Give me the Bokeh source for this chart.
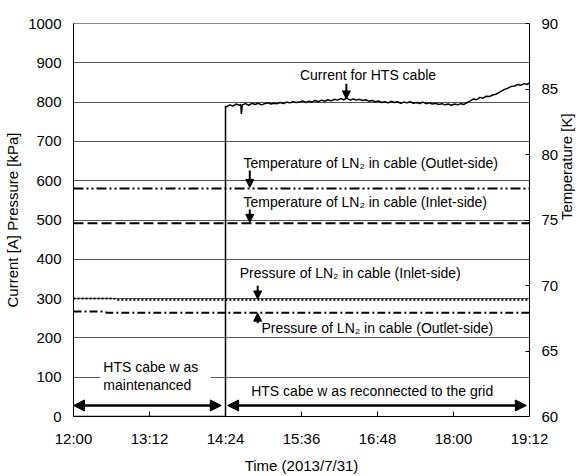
import math
from bokeh.plotting import figure
from bokeh.models import Range1d, LinearAxis, FixedTicker, Label, Arrow, NormalHead, BoxAnnotation
from bokeh.embed import file_html
from bokeh.resources import INLINE

# ---------------- data ----------------
# time in minutes after 12:00 on 2013/7/31
x_tick_minutes = [0, 72, 144, 216, 288, 360, 432]
x_tick_labels = ["12:00", "13:12", "14:24", "15:36", "16:48", "18:00", "19:12"]
left_ticks = [0, 100, 200, 300, 400, 500, 600, 700, 800, 900, 1000]
right_ticks = [60, 65, 70, 75, 80, 85, 90]

current_time = [0, 144, 144, 145, 148, 151, 154, 157, 158.5, 159, 160, 163, 166, 169, 172, 175, 178,
                181, 184, 187, 190, 193, 196, 199, 202, 205, 208, 211, 214, 217, 220, 223, 226,
                229, 232, 235, 238, 241, 244, 247, 250, 253, 256, 259, 262, 265, 268, 271, 274,
                277, 280, 283, 286, 289, 292, 295, 298, 301, 304, 307, 310, 313, 316, 319, 322,
                325, 328, 331, 334, 337, 340, 343, 346, 349, 352, 355, 358, 361, 364, 367, 370,
                373, 376, 379, 382, 385, 388, 391, 394, 397, 400, 403, 406, 409, 412, 415, 418,
                421, 424, 427, 430, 432]
current_amp = [0, 0, 790, 788, 793, 790, 795, 792, 794, 770, 793, 796, 792, 797, 794, 797, 793,
               796, 798, 795, 797, 796, 799, 796, 800, 798, 801, 799, 800, 803, 799, 802, 800,
               804, 801, 805, 802, 806, 803, 807, 805, 809, 806, 810, 805, 808, 805, 807, 804,
               806, 802, 804, 801, 803, 799, 801, 798, 802, 799, 801, 797, 800, 798, 801, 797,
               799, 796, 800, 796, 798, 795, 797, 794, 796, 793, 795, 792, 795, 793, 796, 794,
               799, 803, 808, 806, 812, 810, 815, 814, 818, 820, 824, 829, 833, 836, 840, 841,
               845, 843, 847, 845, 849]

p_inlet_time = [0, 38, 42, 432]
p_inlet_kpa = [300, 300, 297, 297]
p_outlet_time = [0, 28, 32, 432]
p_outlet_kpa = [267, 267, 264, 264]

t_outlet_time = [0, 432]
t_outlet_k = [77.4, 77.4]
t_inlet_time = [0, 432]
t_inlet_k = [74.75, 74.75]

FONT = "Liberation Sans"

p = figure(width=586, height=476, output_backend="svg", toolbar_location=None,
           x_range=Range1d(0, 432), y_range=Range1d(0, 1000),
           min_border_left=73, min_border_right=55, min_border_top=23, min_border_bottom=60,
           background_fill_color="white", border_fill_color="white")
p.extra_y_ranges = {"temp": Range1d(60, 90)}

p.outline_line_color = "#888888"
p.xgrid.visible = False
p.ygrid.ticker = FixedTicker(ticks=left_ticks)
p.ygrid.grid_line_color = "#555555"
p.ygrid.grid_line_width = 1

# bottom axis
xa = p.xaxis[0]
xa.ticker = FixedTicker(ticks=x_tick_minutes)
xa.major_label_overrides = {m: l for m, l in zip(x_tick_minutes, x_tick_labels)}
xa.axis_label = "Time (2013/7/31)"
xa.major_tick_in = 5
xa.major_tick_out = 0
xa.minor_tick_line_color = None
xa.major_label_standoff = 13
xa.axis_label_standoff = 7

# left axis
ya = p.yaxis[0]
ya.ticker = FixedTicker(ticks=left_ticks)
ya.axis_label = "Current [A] Pressure [kPa]"
ya.major_tick_in = 0
ya.major_tick_out = 0
ya.minor_tick_line_color = None
ya.major_label_standoff = 12
ya.axis_label_standoff = 4

# right axis
ra = LinearAxis(y_range_name="temp")
ra.ticker = FixedTicker(ticks=right_ticks)
ra.major_tick_in = 4
ra.major_tick_out = 0
ra.minor_tick_line_color = None
ra.major_label_standoff = 12
p.add_layout(ra, "right")

for ax in [xa, ya, ra]:
    ax.axis_line_color = "black"
    ax.axis_line_width = 1
    ax.major_tick_line_color = "black"
    ax.major_label_text_font = FONT
    ax.major_label_text_font_size = "15px"
    ax.major_label_text_color = "black"
    ax.axis_label_text_font = FONT
    ax.axis_label_text_font_size = "15px"
    ax.axis_label_text_font_style = "normal"
    ax.axis_label_text_color = "black"

try:
    ra.axis_label_orientation = math.pi / 2
    ra.axis_label = "Temperature [K]"
    ra.axis_label_standoff = 5
except Exception:
    p.add_layout(Label(x=472 - 0, y=196, x_units="screen", y_units="screen",
                       text="Temperature [K]", angle=math.pi / 2,
                       text_font=FONT, text_font_size="15px", text_align="center",
                       text_baseline="middle", text_color="black"))

# white box hiding part of the 100 gridline behind the left note
p.add_layout(BoxAnnotation(left=25.5, right=130, bottom=55, top=145,
                           fill_color="white", fill_alpha=1.0, line_alpha=0, level="underlay"))

# series
p.line(current_time, current_amp, line_color="black", line_width=1.5)
p.line(p_inlet_time, p_inlet_kpa, line_color="black", line_width=2, line_dash="2 2")
p.line(p_outlet_time, p_outlet_kpa, line_color="black", line_width=2, line_dash="8 3 2 3")
p.line(t_outlet_time, t_outlet_k, y_range_name="temp", line_color="black", line_width=2,
       line_dash="10 3 2 3 2 3")
p.line(t_inlet_time, t_inlet_k, y_range_name="temp", line_color="black", line_width=2,
       line_dash="10 4")

def note(x, y, text, align="left"):
    p.add_layout(Label(x=x, y=y, text=text, text_font=FONT, text_font_size="14px",
                       text_align=align, text_baseline="middle", text_color="black"))

def varrow(x, y0, y1):
    p.add_layout(Arrow(x_start=x, y_start=y0, x_end=x, y_end=y1, line_width=2,
                       line_color="black",
                       end=NormalHead(size=8, fill_color="black", line_color="black")))

note(279, 868, "Current for HTS cable", "center")
varrow(258.5, 847, 808)

note(161, 646, "Temperature of LN\u2082 in cable (Outlet-side)")
varrow(167, 626, 583)

note(161, 547, "Temperature of LN\u2082 in cable (Inlet-side)")
varrow(167, 527, 494)

note(157.5, 364, "Pressure of LN\u2082 in cable (Inlet-side)")
varrow(174.5, 333, 299)

note(178, 226, "Pressure of LN\u2082 in cable (Outlet-side)")
varrow(174.5, 237, 263)

note(28.3, 125, "HTS cabe w as")
note(28.3, 79, "maintenanced")
note(283, 66, "HTS cabe w as reconnected to the grid", "center")

for xs, xe in [(0, 140), (146, 429)]:
    p.add_layout(Arrow(x_start=xs, y_start=28, x_end=xe, y_end=28, line_width=2.5,
                       line_color="black",
                       start=NormalHead(size=11, fill_color="black", line_color="black"),
                       end=NormalHead(size=11, fill_color="black", line_color="black")))

open("out.html", "w").write(file_html(p, INLINE))
